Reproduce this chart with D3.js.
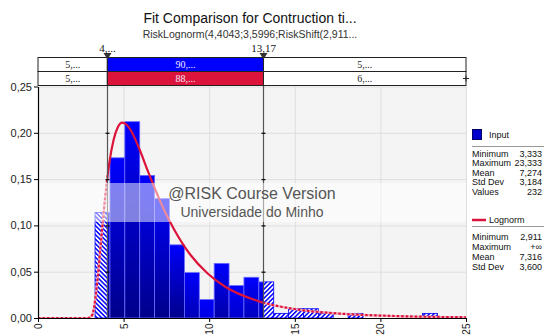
<!DOCTYPE html>
<html><head><meta charset="utf-8">
<script src="https://cdn.jsdelivr.net/npm/d3@7"></script>
<style>
body{margin:0;background:#fff;}
svg text{font-family:"Liberation Sans",Arial,sans-serif;}
</style>
</head><body>
<script>
// ---------- data ----------
const titleText = "Fit Comparison for Contruction ti...";
const subtitleText = "RiskLognorm(4,4043;3,5996;RiskShift(2,911...";
const binLo = [3.333, 4.203, 5.072, 5.942, 6.812, 7.681, 8.551, 9.420, 10.290, 11.159, 12.029, 12.899,
               13.768, 14.638, 15.507, 16.377, 17.246, 18.116, 18.986, 19.855, 20.725, 21.594, 22.464];
const binWidth = 0.8696;
const inputDensity = [0.114, 0.173, 0.212, 0.154, 0.129, 0.079, 0.049, 0.020, 0.059, 0.035, 0.044, 0.039,
                      0.005, 0.010, 0.010, 0.005, 0, 0.005, 0, 0, 0, 0, 0.005];
const fitX = [0, 2.911, 3.161, 3.411, 3.661, 3.911, 4.161, 4.411, 4.661, 4.911, 5.161, 5.411, 5.911, 6.411,
              6.911, 7.411, 7.911, 8.911, 9.911, 10.911, 12.911, 14.911, 17.911, 20.911, 25];
const fitY = [0, 0, 0.003, 0.030, 0.079, 0.128, 0.167, 0.192, 0.206, 0.211, 0.209, 0.203, 0.183, 0.159,
              0.136, 0.115, 0.097, 0.068, 0.048, 0.034, 0.018, 0.0099, 0.0044, 0.0021, 0.0008];
const markers = [4.05, 13.17];
const markerLabels = ["4,...", "13,17"];
const inputPct = ["5,...", "90,...", "5,..."];
const fitPct = ["5,...", "88,...", "6,..."];
const xTicks = [0, 5, 10, 15, 20, 25];
const yTicks = [0, 0.05, 0.10, 0.15, 0.20, 0.25];
const inputStatNames = ["Minimum", "Maximum", "Mean", "Std Dev", "Values"];
const inputStatValues = ["3,333", "23,333", "7,274", "3,184", "232"];
const fitStatNames = ["Minimum", "Maximum", "Mean", "Std Dev"];
const fitStatValues = ["2,911", "+\u221e", "7,316", "3,600"];
const watermark = ["@RISK Course Version", "Universidade do Minho"];

// ---------- drawing ----------
const W = 544, H = 335;
const svg = d3.select("body").append("svg").attr("width", W).attr("height", H);
const defs = svg.append("defs");
const x = d3.scaleLinear().domain([0, 25]).range([38, 466]);
const y = d3.scaleLinear().domain([0, 0.25]).range([318, 86.5]);
const blue = "#0000ff", red = "#dc143c";

// hatch patterns
function hatch(id, rot) {
  const p = defs.append("pattern").attr("id", id).attr("patternUnits", "userSpaceOnUse")
    .attr("width", 3.2).attr("height", 3.2).attr("patternTransform", `rotate(${rot})`);
  p.append("rect").attr("width", 3.2).attr("height", 3.2).attr("fill", "#fff");
  p.append("rect").attr("width", 1.5).attr("height", 3.2).attr("fill", blue);
}
hatch("hatchL", -45);
hatch("hatchR", 45);

// title
svg.append("text").attr("x", 250).attr("y", 23).attr("text-anchor", "middle")
  .style("font-size", "14px").attr("fill", "#111").text(titleText);
svg.append("text").attr("x", 250).attr("y", 37.5).attr("text-anchor", "middle")
  .style("font-size", "10.5px").attr("fill", "#333").text(subtitleText);

// plot background + grid
const [px0, px1] = x.range();
const py0 = y(0.25), py1 = y(0);
svg.append("rect").attr("x", px0).attr("y", py0).attr("width", px1 - px0).attr("height", py1 - py0).attr("fill", "#f4f4f4");
svg.append("g").selectAll("line.h").data(yTicks.slice(1)).join("line")
  .attr("x1", px0).attr("x2", px1).attr("y1", d => y(d) + 0.5).attr("y2", d => y(d) + 0.5)
  .attr("stroke", "#dedede");
svg.append("g").selectAll("line.v").data(xTicks.slice(1)).join("line")
  .attr("y1", py0).attr("y2", py1).attr("x1", d => x(d) + 0.5).attr("x2", d => x(d) + 0.5)
  .attr("stroke", "#dedede");

// bars
const segs = [];
binLo.forEach((lo, i) => {
  const hi = lo + binWidth, h = inputDensity[i];
  if (!h) return;
  if (lo < markers[0]) segs.push({a: lo, b: Math.min(hi, markers[0]), h, kind: "L"});
  const a = Math.max(lo, markers[0]), b = Math.min(hi, markers[1]);
  if (b > a) segs.push({a, b, h, kind: "S", i});
  if (hi > markers[1]) segs.push({a: Math.max(lo, markers[1]), b: hi, h, kind: "R"});
});
const dark = d3.interpolateRgb("#0000ff", "#00008a");
segs.filter(s => s.kind === "S").forEach(s => {
  const top = y(s.h), bot = y(0);
  const g = defs.append("linearGradient").attr("id", "g" + s.i).attr("gradientUnits", "userSpaceOnUse")
    .attr("x1", 0).attr("x2", 0).attr("y1", top).attr("y2", bot);
  const f = Math.min(1, (bot - top) / 75);
  g.append("stop").attr("offset", 0).attr("stop-color", "#0000ff");
  g.append("stop").attr("offset", 0.3).attr("stop-color", dark(f * 0.35));
  g.append("stop").attr("offset", 1).attr("stop-color", dark(f));
});
svg.append("g").selectAll("rect").data(segs).join("rect")
  .attr("x", d => x(d.a)).attr("width", d => x(d.b) - x(d.a))
  .attr("y", d => y(d.h)).attr("height", d => y(0) - y(d.h))
  .attr("fill", d => d.kind === "S" ? `url(#g${d.i})` : (d.kind === "L" ? "url(#hatchL)" : "url(#hatchR)"))
  .attr("stroke", d => d.kind === "S" ? "#6a6aff" : blue)
  .attr("stroke-width", 0.8);

// fitted curve
const pts = fitX.map((v, i) => [v, fitY[i]]);
const line = d3.line().x(d => x(d[0])).y(d => y(d[1])).curve(d3.curveMonotoneX);
defs.append("clipPath").attr("id", "clipIn").append("rect")
  .attr("x", x(markers[0])).attr("y", 0).attr("width", x(markers[1]) - x(markers[0])).attr("height", H);
const co = defs.append("clipPath").attr("id", "clipOut");
co.append("rect").attr("x", 0).attr("y", 0).attr("width", x(markers[0])).attr("height", H);
co.append("rect").attr("x", x(markers[1])).attr("y", 0).attr("width", W - x(markers[1])).attr("height", H);
const outG = svg.append("g").attr("clip-path", "url(#clipOut)");
outG.append("path").attr("d", line(pts)).attr("fill", "none").attr("stroke", "#f3a6b5").attr("stroke-width", 2.2);
outG.append("path").attr("d", line(pts)).attr("fill", "none").attr("stroke", red).attr("stroke-width", 2.2)
  .attr("stroke-dasharray", "2.5,2");
svg.append("g").attr("clip-path", "url(#clipIn)").append("path").attr("d", line(pts))
  .attr("fill", "none").attr("stroke", red).attr("stroke-width", 2.2);

// marker lines
const mg = svg.append("g");
markers.forEach(m => {
  const xm = Math.round(x(m)) + 0.5;
  mg.append("line").attr("x1", xm).attr("x2", xm).attr("y1", 54).attr("y2", py1).attr("stroke", "#555").attr("stroke-width", 1.2);
  yTicks.slice(1, 5).forEach(t => {
    mg.append("line").attr("x1", xm - 2).attr("x2", xm + 2).attr("y1", y(t) + 0.5).attr("y2", y(t) + 0.5).attr("stroke", "#111").attr("stroke-width", 1.3);
  });
});

// watermark band
svg.append("rect").attr("x", px0).attr("y", 183).attr("width", px1 - px0).attr("height", 39)
  .attr("fill", "#fff").attr("opacity", 0.5);
svg.append("text").attr("x", (px0 + px1) / 2).attr("y", 199).attr("text-anchor", "middle")
  .style("font-size", "16px").attr("fill", "#555").text(watermark[0]);
svg.append("text").attr("x", (px0 + px1) / 2).attr("y", 217).attr("text-anchor", "middle")
  .style("font-size", "14px").attr("fill", "#555").text(watermark[1]);

// axes
const fmt = d => d.toFixed(2).replace(".", ",");
const ya = svg.append("g").attr("transform", `translate(${px0},0)`)
  .call(d3.axisLeft(y).tickValues(yTicks).tickFormat(fmt).tickSize(4).tickSizeOuter(0));
ya.select(".domain").attr("stroke", "#000").attr("stroke-width", 1.2);
ya.selectAll("text").style("font-size", "11px").attr("fill", "#222").attr("x", -6);
const xa = svg.append("g").attr("transform", `translate(0,${py1})`)
  .call(d3.axisBottom(x).tickValues(xTicks).tickFormat(d3.format("d")).tickSize(4).tickSizeOuter(0));
xa.select(".domain").attr("stroke", "#000").attr("stroke-width", 1.2);
xa.selectAll("text").style("font-size", "10px").attr("fill", "#222")
  .attr("transform", "rotate(-90)").attr("x", -5.5).attr("y", 0).attr("dy", "0.35em").style("text-anchor", "end");

// top percentage box
const cellsX = [px0, x(markers[0]), x(markers[1]), px1];
const rows = [{y: 57.5, vals: inputPct, fill: blue}, {y: 71.5, vals: fitPct, fill: red}];
const bg = svg.append("g");
rows.forEach(r => {
  for (let k = 0; k < 3; k++) {
    bg.append("rect").attr("x", cellsX[k]).attr("y", r.y).attr("width", cellsX[k + 1] - cellsX[k]).attr("height", 14)
      .attr("fill", k === 1 ? r.fill : "#fff").attr("stroke", "#222").attr("stroke-width", 1);
    bg.append("text").attr("x", (cellsX[k] + cellsX[k + 1]) / 2).attr("y", r.y + 10.5).attr("text-anchor", "middle")
      .style("font-family", "'Liberation Serif',serif").style("font-size", "10px")
      .attr("fill", k === 1 ? "#f0e8ff" : "#222").text(r.vals[k]);
  }
});
bg.append("line").attr("x1", px1 - 3).attr("x2", px1 + 3).attr("y1", 78.5).attr("y2", 78.5).attr("stroke", "#222");
bg.append("line").attr("x1", px1).attr("x2", px1).attr("y1", 75.5).attr("y2", 81.5).attr("stroke", "#222");
markers.forEach((m, i) => {
  const xm = Math.round(x(m)) + 0.5;
  bg.append("path").attr("d", `M${xm - 4},53 L${xm + 4},53 L${xm},59.5 Z`).attr("fill", "#333");
  bg.append("text").attr("x", xm).attr("y", 51.5).attr("text-anchor", "middle")
    .style("font-family", "'Liberation Serif',serif").style("font-size", "11px").attr("fill", "#111").text(markerLabels[i]);
});

// legend
const lg = svg.append("g");
const lfs = "9px";
lg.append("rect").attr("x", 472.5).attr("y", 129.5).attr("width", 9).attr("height", 10).attr("fill", "#0000cc").attr("stroke", "#000066");
lg.append("text").attr("x", 489).attr("y", 137.5).style("font-size", lfs).attr("fill", "#111").text("Input");
lg.append("line").attr("x1", 472).attr("x2", 544).attr("y1", 146.5).attr("y2", 146.5).attr("stroke", "#999");
inputStatNames.forEach((n, i) => {
  const yy = 156.5 + i * 9.5;
  lg.append("text").attr("x", 472).attr("y", yy).style("font-size", lfs).attr("fill", "#111").text(n);
  lg.append("text").attr("x", 542).attr("y", yy).attr("text-anchor", "end").style("font-size", lfs).attr("fill", "#111").text(inputStatValues[i]);
});
lg.append("line").attr("x1", 472).attr("x2", 486).attr("y1", 220).attr("y2", 220).attr("stroke", red).attr("stroke-width", 2.5);
lg.append("text").attr("x", 489).attr("y", 223).style("font-size", lfs).attr("fill", "#111").text("Lognorm");
lg.append("line").attr("x1", 472).attr("x2", 544).attr("y1", 226.5).attr("y2", 226.5).attr("stroke", "#999");
fitStatNames.forEach((n, i) => {
  const yy = 240 + i * 10;
  lg.append("text").attr("x", 472).attr("y", yy).style("font-size", lfs).attr("fill", "#111").text(n);
  lg.append("text").attr("x", 542).attr("y", yy).attr("text-anchor", "end").style("font-size", lfs).attr("fill", "#111").text(fitStatValues[i]);
});
</script>
</body></html>
